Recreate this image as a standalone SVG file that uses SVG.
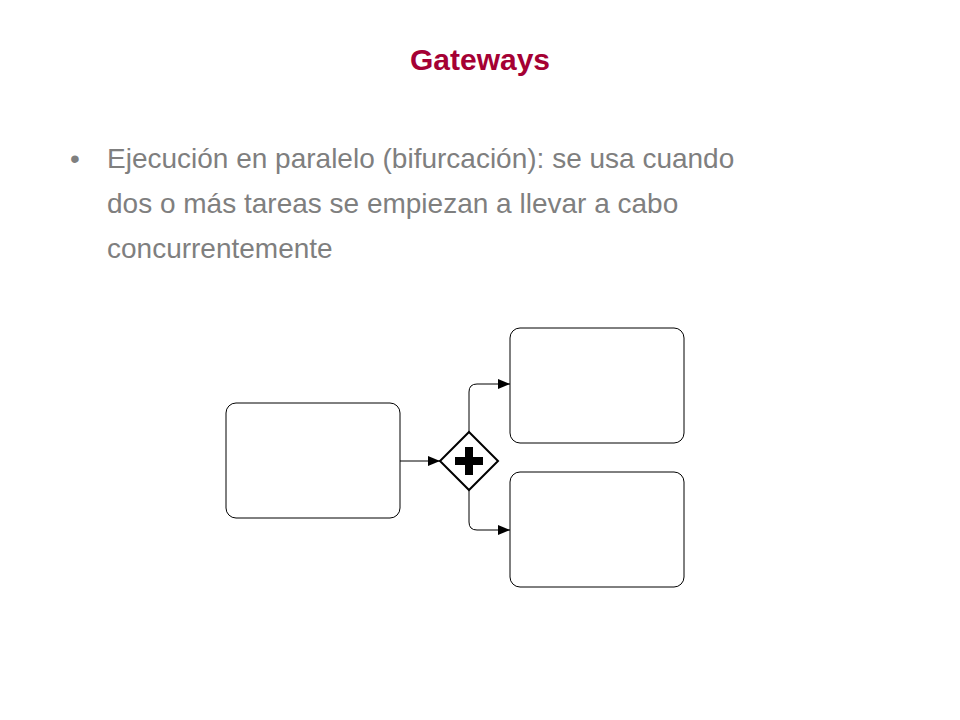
<svg xmlns="http://www.w3.org/2000/svg" width="960" height="720" viewBox="0 0 960 720">
<style>
.task{fill:#fff;stroke:#000;stroke-width:1}
.conn{fill:none;stroke:#000;stroke-width:1}
.txt{font-family:"Liberation Sans Narrow","Liberation Sans",Arial,sans-serif;fill:#7f7f7f;font-size:28px}
</style>
<defs><marker id="ah" markerWidth="12" markerHeight="10" refX="12" refY="5" orient="auto" markerUnits="userSpaceOnUse"><path d="M0,0L12,5L0,10z" fill="#000"/></marker></defs>
<rect width="960" height="720" fill="#fff"/>
<text x="480" y="70" text-anchor="middle" font-family="'Liberation Sans Narrow','Liberation Sans',Arial,sans-serif" font-weight="bold" font-size="30" fill="#a50034">Gateways</text>
<text x="70" y="168" class="txt">•</text>
<text x="107" y="168" class="txt">Ejecución en paralelo (bifurcación): se usa cuando</text>
<text x="107" y="213" class="txt">dos o más tareas se empiezan a llevar a cabo</text>
<text x="107" y="258" class="txt">concurrentemente</text>
<g id="task1"><rect class="task" x="226" y="403" width="174" height="115" rx="10"/></g>
<g id="task2"><rect class="task" x="510" y="328" width="174" height="115" rx="10"/></g>
<g id="task3"><rect class="task" x="510" y="472" width="174" height="115" rx="10"/></g>
<g id="gateway"><path d="M469,432L498,461L469,490L440,461Z" fill="#fff" stroke="#000" stroke-width="2"/>
<path d="M465,447h8v10h10v8h-10v10h-8v-10h-10v-8h10z" fill="#000"/></g>
<g id="connectors">
<path class="conn" d="M400,461H440" marker-end="url(#ah)"/>
<path class="conn" d="M469,432V392Q469,384 477,384H510" marker-end="url(#ah)"/>
<path class="conn" d="M469,490V522Q469,530 477,530H510" marker-end="url(#ah)"/>
</g>
</svg>
